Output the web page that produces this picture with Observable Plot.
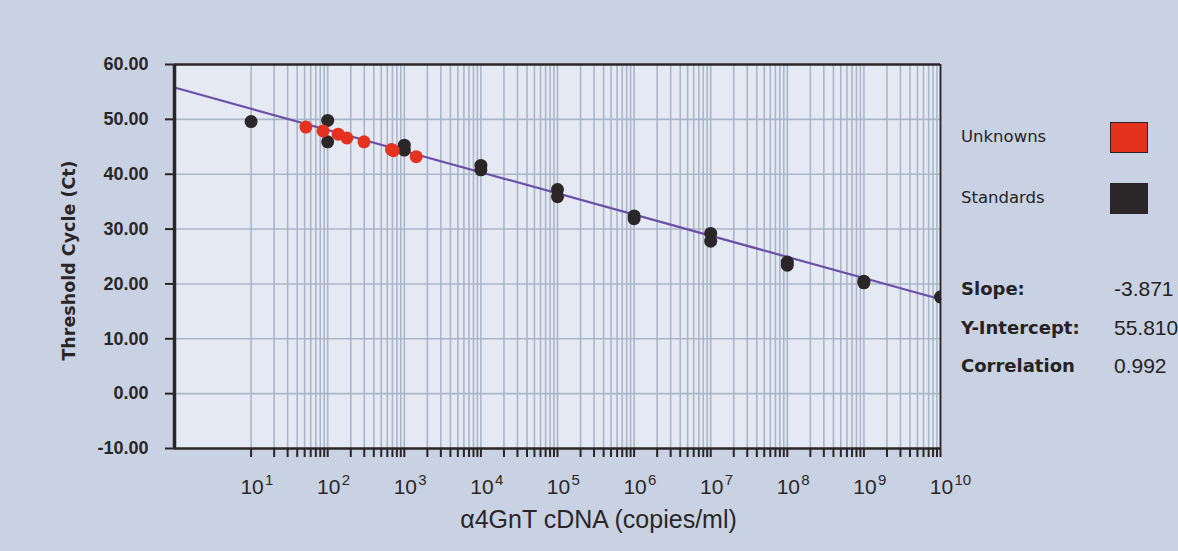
<!DOCTYPE html>
<html>
<head>
<meta charset="utf-8">
<script src="https://cdn.jsdelivr.net/npm/d3@7"></script>
<script src="https://cdn.jsdelivr.net/npm/@observablehq/plot@0.6"></script>
<style>
  html, body { margin: 0; padding: 0; background: #c9d2e3; }
  #wrap { position: relative; width: 1178px; height: 551px; overflow: hidden; }
  .lg { position: absolute; color: #262223; white-space: nowrap; }
  .lgname { font-family: "DejaVu Sans", sans-serif; font-size: 16.5px; }
  .sw { position: absolute; width: 38px; height: 31px; box-sizing: border-box; border: 1.5px solid #2a2426; }
  .stl { font-family: "DejaVu Sans", sans-serif; font-weight: bold; font-size: 18px; }
  .stv { font-family: "Liberation Sans", sans-serif; font-size: 21px; }
</style>
</head>
<body>
<div id="wrap"></div>
<script>
// ---- data ----
const standardsX = [10, 100, 100, 1000, 1000, 1e4, 1e4, 1e5, 1e5, 1e6, 1e6, 1e7, 1e7, 1e8, 1e8, 1e9, 1e9, 1e10];
const standardsY = [49.6, 49.8, 45.9, 45.3, 44.4, 41.6, 40.8, 37.2, 35.9, 32.4, 31.9, 29.2, 27.8, 24.0, 23.4, 20.5, 20.2, 17.6];
const unknownsX = [52, 87, 137, 178, 298, 680, 720, 1430];
const unknownsY = [48.6, 47.9, 47.3, 46.6, 45.9, 44.5, 44.3, 43.2];
const fitLineX = [1, 1e10];
const fitLineY = [55.8, 17.2];
const yTicks = [-10, 0, 10, 20, 30, 40, 50, 60];
const yGridValues = [0, 10, 20, 30, 40, 50];
const xExponents = [1, 2, 3, 4, 5, 6, 7, 8, 9, 10];
const minorMultipliers = [2, 3, 4, 5, 6, 7, 8, 9];
const legendNames = ["Unknowns", "Standards"];
const legendColors = ["#e4321e", "#2b2627"];
const statLabels = ["Slope:", "Y-Intercept:", "Correlation"];
const statValues = ["-3.871", "55.810", "0.992"];
const xLabel = "\u03b14GnT cDNA (copies/ml)";
const yLabel = "Threshold Cycle (Ct)";

// ---- build tables ----
const standards = standardsX.map((x, i) => ({x, y: standardsY[i]}));
const unknowns = unknownsX.map((x, i) => ({x, y: unknownsY[i]}));
const fitLine = fitLineX.map((x, i) => ({x, y: fitLineY[i]}));
const decades = xExponents.map(e => Math.pow(10, e));
const gridX = [];
xExponents.forEach(e => {
  gridX.push(Math.pow(10, e));
  if (e < 10) minorMultipliers.forEach(m => gridX.push(m * Math.pow(10, e)));
});

const ink = "#2a2627";
const gridColor = "#aab6c7";

const chart = Plot.plot({
  width: 1178,
  height: 551,
  marginLeft: 174,
  marginRight: 238,
  marginTop: 64,
  marginBottom: 103,
  style: { background: "transparent", fontFamily: "Liberation Sans, sans-serif", color: ink },
  x: { type: "log", domain: [1, 1e10] },
  y: { domain: [-10, 60] },
  marks: [
    Plot.frame({ fill: "#e5e9f4", stroke: null }),
    Plot.ruleX(gridX, { stroke: gridColor, strokeWidth: 1.6 }),
    Plot.ruleY(yGridValues, { stroke: gridColor, strokeWidth: 1.6 }),
    Plot.axisX(gridX, { anchor: "bottom", tickSize: 9, tickFormat: () => "", stroke: ink, strokeWidth: 2, label: null }),
    Plot.axisY(yTicks, { anchor: "left", tickSize: 9, tickPadding: 17, tickFormat: d => d.toFixed(2), stroke: ink, strokeWidth: 2, fontSize: 18, fontWeight: "bold", fill: ink, label: null }),
    Plot.text(decades, { x: d => d, text: () => "10", frameAnchor: "bottom", dy: 45, dx: 1, textAnchor: "middle", fontFamily: "Liberation Sans, sans-serif", fontSize: 21, fill: ink }),
    Plot.text(xExponents, { x: e => Math.pow(10, e), text: e => String(e), frameAnchor: "bottom", dy: 36, dx: 14, textAnchor: "start", fontFamily: "Liberation Sans, sans-serif", fontSize: 15, fill: ink }),
    Plot.text([xLabel], { text: d => d, frameAnchor: "bottom", dx: 41, dy: 79, fontFamily: "Liberation Sans Narrow, Liberation Sans, sans-serif", fontSize: 25, fill: ink }),
    Plot.text([yLabel], { text: d => d, frameAnchor: "left", textAnchor: "middle", dx: -105, dy: 4, rotate: -90, fontFamily: "DejaVu Sans, sans-serif", fontWeight: "bold", fontSize: 17.5, fill: ink }),
    Plot.line(fitLine, { x: "x", y: "y", stroke: "#6a50a8", strokeWidth: 2.2 }),
    Plot.dot(standards, { x: "x", y: "y", r: 6.5, fill: legendColors[1], clip: true }),
    Plot.dot(unknowns, { x: "x", y: "y", r: 6.5, fill: legendColors[0], clip: true }),
    Plot.ruleX([1], { stroke: ink, strokeWidth: 3.5 }),
    Plot.ruleX([1e10], { stroke: ink, strokeWidth: 1.8 }),
    Plot.ruleY([-10], { stroke: ink, strokeWidth: 2.5 }),
    Plot.ruleY([60], { stroke: ink, strokeWidth: 2.5 })
  ]
});

const wrap = document.getElementById("wrap");
wrap.appendChild(chart);

// legend (HTML overlay)
const legendTops = [138, 199];
legendNames.forEach((name, i) => {
  const t = document.createElement("div");
  t.className = "lg lgname";
  t.textContent = name;
  t.style.left = "961px";
  t.style.top = (legendTops[i] - 11) + "px";
  wrap.appendChild(t);
  const s = document.createElement("div");
  s.className = "sw";
  s.style.left = "1110px";
  s.style.top = (legendTops[i] - 16) + "px";
  s.style.background = legendColors[i];
  wrap.appendChild(s);
});
const statTops = [290, 329, 367];
statLabels.forEach((lab, i) => {
  const a = document.createElement("div");
  a.className = "lg stl";
  a.textContent = lab;
  a.style.left = "961px";
  a.style.top = (statTops[i] - 12) + "px";
  wrap.appendChild(a);
  const b = document.createElement("div");
  b.className = "lg stv";
  b.textContent = statValues[i];
  b.style.left = "1114px";
  b.style.top = (statTops[i] - 13) + "px";
  wrap.appendChild(b);
});
</script>
</body>
</html>
